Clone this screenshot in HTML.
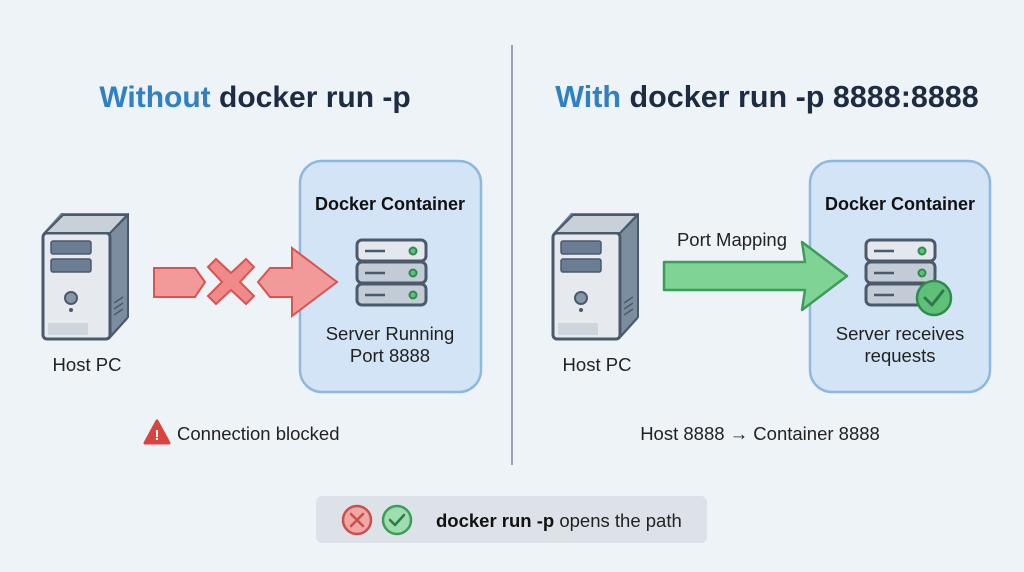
<!DOCTYPE html>
<html><head><meta charset="utf-8"><style>
html,body{margin:0;padding:0;background:#eef3f8;}
svg{display:block;font-family:"Liberation Sans",sans-serif;}
</style></head><body>
<svg width="1024" height="572" viewBox="0 0 1024 572">
<rect width="1024" height="572" fill="#eef3f8"/>
<line x1="512" y1="45" x2="512" y2="465" stroke="#9aa4ae" stroke-width="2"/>
<text x="255" y="107" text-anchor="middle" font-size="30" font-weight="bold"><tspan fill="#2f80c4">Without</tspan><tspan fill="#1d2c42"> docker run -p</tspan></text>
<text x="767" y="107" text-anchor="middle" font-size="30.5" font-weight="bold"><tspan fill="#2f80c4">With</tspan><tspan fill="#1d2c42"> docker run -p 8888:8888</tspan></text>

<defs>
<g id="pc">
<polygon points="0,20 18,0 85,0 85,106 67,126 0,126" fill="#6f8194"/>
<polygon points="67,20 85,2 85,104 67,124" fill="#7d8da0" stroke="#4b5a6b" stroke-width="2"/>
<rect x="0" y="20" width="67" height="106" rx="4" fill="#e6eaef" stroke="#4b5a6b" stroke-width="3"/>
<polygon points="2,20 20,2 84,2 67,20" fill="#c8d0da" stroke="#4b5a6b" stroke-width="2"/>
<rect x="8" y="28" width="40" height="13" rx="2" fill="#6a7d93" stroke="#4b5a6b" stroke-width="1.5"/>
<rect x="8" y="46" width="40" height="13" rx="2" fill="#6a7d93" stroke="#4b5a6b" stroke-width="1.5"/>
<circle cx="28" cy="85" r="6" fill="#8796a8" stroke="#4b5a6b" stroke-width="2"/>
<circle cx="28" cy="97" r="2" fill="#4b5a6b"/>
<rect x="5" y="110" width="40" height="12" fill="#cfd5dc"/>
<g stroke="#4b5a6b" stroke-width="1.5"><line x1="71" y1="90" x2="80" y2="84"/><line x1="71" y1="96" x2="80" y2="90"/><line x1="71" y1="102" x2="80" y2="96"/></g>
</g>
<g id="srv">
<rect x="0" y="0" width="69" height="21" rx="5" fill="#e4e8ee" stroke="#4b5a6b" stroke-width="3"/>
<rect x="0" y="22" width="69" height="21" rx="5" fill="#c3cbd6" stroke="#4b5a6b" stroke-width="3"/>
<rect x="0" y="44" width="69" height="21" rx="5" fill="#c3cbd6" stroke="#4b5a6b" stroke-width="3"/>
<g stroke="#4b5a6b" stroke-width="2.5"><line x1="8" y1="11" x2="28" y2="11"/><line x1="8" y1="33" x2="28" y2="33"/><line x1="8" y1="55" x2="28" y2="55"/></g>
<g fill="#5fc179" stroke="#2f8a4b" stroke-width="2"><circle cx="56" cy="11" r="3.5"/><circle cx="56" cy="33" r="3.5"/><circle cx="56" cy="55" r="3.5"/></g>
</g>
</defs>

<!-- Left -->
<rect x="300" y="161" width="181" height="231" rx="22" fill="#d3e4f6" stroke="#8fb8e0" stroke-width="2.5"/>
<text x="390" y="210" text-anchor="middle" font-size="18" font-weight="bold" fill="#111">Docker Container</text>
<use href="#srv" x="357" y="240"/>
<text x="390" y="340" text-anchor="middle" font-size="18.5" fill="#222">Server Running</text>
<text x="390" y="362" text-anchor="middle" font-size="18.5" fill="#222">Port 8888</text>
<use href="#pc" x="43" y="213"/>
<text x="87" y="371" text-anchor="middle" font-size="18.5" fill="#222">Host PC</text>
<polygon points="154,268 195,268 205,282 195,297 154,297" fill="#f29a9a" stroke="#d9534f" stroke-width="2"/>
<path d="M216,259 L231,273 L246,259 L254,267 L240,282 L254,296 L246,304 L231,290 L216,304 L208,296 L222,282 L208,267 Z" fill="#f08a8a" stroke="#d9534f" stroke-width="2"/>
<polygon points="258,282 270,268 292,268 292,248 337,282 292,316 292,297 270,297" fill="#f29a9a" stroke="#d9534f" stroke-width="2"/>
<polygon points="157,421 145,443 169,443" fill="#d9443f" stroke="#d9443f" stroke-width="3" stroke-linejoin="round"/>
<text x="157" y="440" text-anchor="middle" font-size="15" font-weight="bold" fill="#fff">!</text>
<text x="177" y="440" font-size="18.5" fill="#222">Connection blocked</text>

<!-- Right -->
<rect x="810" y="161" width="180" height="231" rx="22" fill="#d3e4f6" stroke="#8fb8e0" stroke-width="2.5"/>
<text x="900" y="210" text-anchor="middle" font-size="18" font-weight="bold" fill="#111">Docker Container</text>
<use href="#srv" x="866" y="240"/>
<circle cx="934" cy="298" r="17" fill="#5fc179" stroke="#2f8a4b" stroke-width="2.5"/>
<polyline points="925,298 932,305 943,291" fill="none" stroke="#2f7a45" stroke-width="3" stroke-linecap="round" stroke-linejoin="round"/>
<text x="900" y="340" text-anchor="middle" font-size="18.5" fill="#222">Server receives</text>
<text x="900" y="362" text-anchor="middle" font-size="18.5" fill="#222">requests</text>
<use href="#pc" x="553" y="213"/>
<text x="597" y="371" text-anchor="middle" font-size="18.5" fill="#222">Host PC</text>
<polygon points="664,262 805,262 802,242 847,276 802,310 805,290 664,290" fill="#7fd495" stroke="#3d9d58" stroke-width="2.5" stroke-linejoin="round"/>
<text x="732" y="246" text-anchor="middle" font-size="18.5" fill="#222">Port Mapping</text>
<text x="760" y="440" text-anchor="middle" font-size="18.5" fill="#222">Host 8888 → Container 8888</text>

<!-- Bottom pill -->
<rect x="316" y="496" width="391" height="47" rx="6" fill="#dde2e8"/>
<circle cx="357" cy="520" r="14" fill="#f1a7a7" stroke="#c9504c" stroke-width="2.5"/>
<path d="M351,514 L363,526 M363,514 L351,526" stroke="#c9504c" stroke-width="2.5" stroke-linecap="round"/>
<circle cx="397" cy="520" r="14" fill="#9fdcaf" stroke="#3d9d58" stroke-width="2.5"/>
<polyline points="390,520 395,525 404,515" fill="none" stroke="#2f7a45" stroke-width="2.5" stroke-linecap="round" stroke-linejoin="round"/>
<text x="436" y="527" font-size="18.5" fill="#222"><tspan font-weight="bold" fill="#111">docker run -p</tspan> opens the path</text>
</svg>
</body></html>
